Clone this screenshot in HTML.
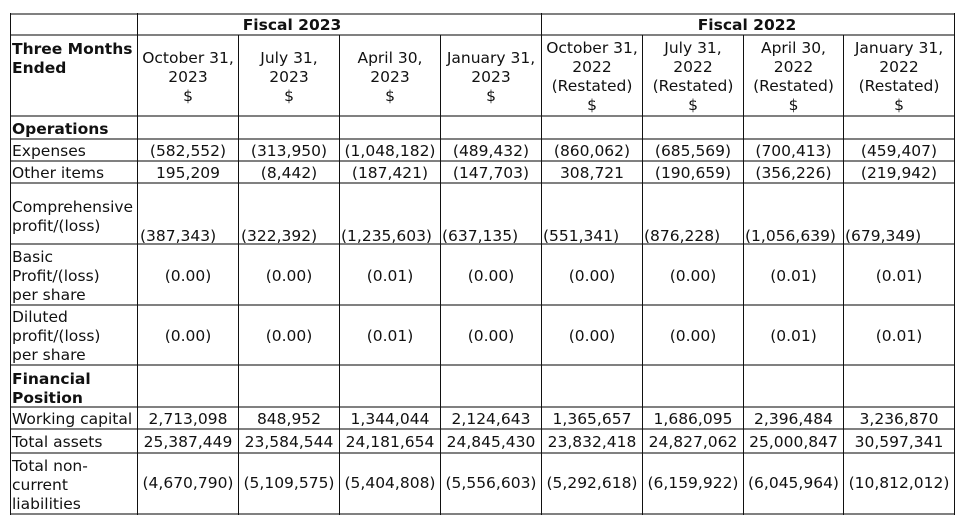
<!DOCTYPE html>
<html><head><meta charset="utf-8">
<style>
html,body{margin:0;padding:0;background:#fff;}
body{width:966px;height:526px;position:relative;overflow:hidden;font-family:"DejaVu Sans","Liberation Sans",sans-serif;font-size:15.5px;line-height:19px;color:#111;}
.h{position:absolute;left:10px;width:945px;height:2px;background:#808080;}
.v{position:absolute;width:1px;background:#111;}
.t{position:absolute;white-space:nowrap;}
.c{text-align:center;}
.b{font-weight:bold;}
</style></head><body>
<!-- horizontal lines -->
<div class="h" style="top:13px"></div>
<div class="h" style="top:34px"></div>
<div class="h" style="top:115px"></div>
<div class="h" style="top:138px"></div>
<div class="h" style="top:160px"></div>
<div class="h" style="top:182px"></div>
<div class="h" style="top:243px"></div>
<div class="h" style="top:304px"></div>
<div class="h" style="top:364px"></div>
<div class="h" style="top:406px"></div>
<div class="h" style="top:428px"></div>
<div class="h" style="top:452px"></div>
<div class="h" style="top:513px"></div>
<!-- vertical lines -->
<div class="v" style="left:10px;top:13px;height:502px"></div>
<div class="v" style="left:137px;top:13px;height:502px"></div>
<div class="v" style="left:541px;top:13px;height:502px"></div>
<div class="v" style="left:954px;top:13px;height:502px"></div>
<div class="v" style="left:238px;top:35px;height:480px"></div>
<div class="v" style="left:339px;top:35px;height:480px"></div>
<div class="v" style="left:440px;top:35px;height:480px"></div>
<div class="v" style="left:642px;top:35px;height:480px"></div>
<div class="v" style="left:743px;top:35px;height:480px"></div>
<div class="v" style="left:843px;top:35px;height:480px"></div>

<!-- fiscal headers -->
<div class="t b c" style="left:192px;width:200px;top:15.5px">Fiscal 2023</div>
<div class="t b c" style="left:647px;width:200px;top:15.5px">Fiscal 2022</div>

<!-- column headers -->
<div class="t b" style="left:12px;top:39.5px">Three Months<br>Ended</div>
<div class="t c" style="left:138px;width:100px;top:48.5px">October 31,<br>2023<br>$</div>
<div class="t c" style="left:239px;width:100px;top:48.5px">July 31,<br>2023<br>$</div>
<div class="t c" style="left:340px;width:100px;top:48.5px">April 30,<br>2023<br>$</div>
<div class="t c" style="left:441px;width:100px;top:48.5px">January 31,<br>2023<br>$</div>
<div class="t c" style="left:542px;width:100px;top:38.5px">October 31,<br>2022<br>(Restated)<br>$</div>
<div class="t c" style="left:643px;width:100px;top:38.5px">July 31,<br>2022<br>(Restated)<br>$</div>
<div class="t c" style="left:744px;width:99px;top:38.5px">April 30,<br>2022<br>(Restated)<br>$</div>
<div class="t c" style="left:844px;width:110px;top:38.5px">January 31,<br>2022<br>(Restated)<br>$</div>

<!-- Operations -->
<div class="t b" style="left:12px;top:119.5px">Operations</div>

<!-- Expenses -->
<div class="t" style="left:12px;top:141.5px">Expenses</div>
<div class="t c" style="left:138px;width:100px;top:141.5px">(582,552)</div>
<div class="t c" style="left:239px;width:100px;top:141.5px">(313,950)</div>
<div class="t c" style="left:340px;width:100px;top:141.5px">(1,048,182)</div>
<div class="t c" style="left:441px;width:100px;top:141.5px">(489,432)</div>
<div class="t c" style="left:542px;width:100px;top:141.5px">(860,062)</div>
<div class="t c" style="left:643px;width:100px;top:141.5px">(685,569)</div>
<div class="t c" style="left:744px;width:99px;top:141.5px">(700,413)</div>
<div class="t c" style="left:844px;width:110px;top:141.5px">(459,407)</div>

<!-- Other items -->
<div class="t" style="left:12px;top:163.5px">Other items</div>
<div class="t c" style="left:138px;width:100px;top:163.5px">195,209</div>
<div class="t c" style="left:239px;width:100px;top:163.5px">(8,442)</div>
<div class="t c" style="left:340px;width:100px;top:163.5px">(187,421)</div>
<div class="t c" style="left:441px;width:100px;top:163.5px">(147,703)</div>
<div class="t c" style="left:542px;width:100px;top:163.5px">308,721</div>
<div class="t c" style="left:643px;width:100px;top:163.5px">(190,659)</div>
<div class="t c" style="left:744px;width:99px;top:163.5px">(356,226)</div>
<div class="t c" style="left:844px;width:110px;top:163.5px">(219,942)</div>

<!-- Comprehensive -->
<div class="t" style="left:12px;top:198px">Comprehensive<br>profit/(loss)</div>
<div class="t" style="left:140px;top:226.5px">(387,343)</div>
<div class="t" style="left:241px;top:226.5px">(322,392)</div>
<div class="t" style="left:341px;top:226.5px">(1,235,603)</div>
<div class="t" style="left:442px;top:226.5px">(637,135)</div>
<div class="t" style="left:543px;top:226.5px">(551,341)</div>
<div class="t" style="left:644px;top:226.5px">(876,228)</div>
<div class="t" style="left:745px;top:226.5px">(1,056,639)</div>
<div class="t" style="left:845px;top:226.5px">(679,349)</div>

<!-- Basic -->
<div class="t" style="left:12px;top:248px">Basic<br>Profit/(loss)<br>per share</div>
<div class="t c" style="left:138px;width:100px;top:267px">(0.00)</div>
<div class="t c" style="left:239px;width:100px;top:267px">(0.00)</div>
<div class="t c" style="left:340px;width:100px;top:267px">(0.01)</div>
<div class="t c" style="left:441px;width:100px;top:267px">(0.00)</div>
<div class="t c" style="left:542px;width:100px;top:267px">(0.00)</div>
<div class="t c" style="left:643px;width:100px;top:267px">(0.00)</div>
<div class="t c" style="left:744px;width:99px;top:267px">(0.01)</div>
<div class="t c" style="left:844px;width:110px;top:267px">(0.01)</div>

<!-- Diluted -->
<div class="t" style="left:12px;top:308px">Diluted<br>profit/(loss)<br>per share</div>
<div class="t c" style="left:138px;width:100px;top:327px">(0.00)</div>
<div class="t c" style="left:239px;width:100px;top:327px">(0.00)</div>
<div class="t c" style="left:340px;width:100px;top:327px">(0.01)</div>
<div class="t c" style="left:441px;width:100px;top:327px">(0.00)</div>
<div class="t c" style="left:542px;width:100px;top:327px">(0.00)</div>
<div class="t c" style="left:643px;width:100px;top:327px">(0.00)</div>
<div class="t c" style="left:744px;width:99px;top:327px">(0.01)</div>
<div class="t c" style="left:844px;width:110px;top:327px">(0.01)</div>

<!-- Financial Position -->
<div class="t b" style="left:12px;top:369.5px">Financial<br>Position</div>

<!-- Working capital -->
<div class="t" style="left:12px;top:410px">Working capital</div>
<div class="t c" style="left:138px;width:100px;top:410px">2,713,098</div>
<div class="t c" style="left:239px;width:100px;top:410px">848,952</div>
<div class="t c" style="left:340px;width:100px;top:410px">1,344,044</div>
<div class="t c" style="left:441px;width:100px;top:410px">2,124,643</div>
<div class="t c" style="left:542px;width:100px;top:410px">1,365,657</div>
<div class="t c" style="left:643px;width:100px;top:410px">1,686,095</div>
<div class="t c" style="left:744px;width:99px;top:410px">2,396,484</div>
<div class="t c" style="left:844px;width:110px;top:410px">3,236,870</div>

<!-- Total assets -->
<div class="t" style="left:12px;top:432.5px">Total assets</div>
<div class="t c" style="left:138px;width:100px;top:432.5px">25,387,449</div>
<div class="t c" style="left:239px;width:100px;top:432.5px">23,584,544</div>
<div class="t c" style="left:340px;width:100px;top:432.5px">24,181,654</div>
<div class="t c" style="left:441px;width:100px;top:432.5px">24,845,430</div>
<div class="t c" style="left:542px;width:100px;top:432.5px">23,832,418</div>
<div class="t c" style="left:643px;width:100px;top:432.5px">24,827,062</div>
<div class="t c" style="left:744px;width:99px;top:432.5px">25,000,847</div>
<div class="t c" style="left:844px;width:110px;top:432.5px">30,597,341</div>

<!-- Total non-current liabilities -->
<div class="t" style="left:12px;top:456.5px">Total non-<br>current<br>liabilities</div>
<div class="t c" style="left:138px;width:100px;top:474px">(4,670,790)</div>
<div class="t c" style="left:239px;width:100px;top:474px">(5,109,575)</div>
<div class="t c" style="left:340px;width:100px;top:474px">(5,404,808)</div>
<div class="t c" style="left:441px;width:100px;top:474px">(5,556,603)</div>
<div class="t c" style="left:542px;width:100px;top:474px">(5,292,618)</div>
<div class="t c" style="left:643px;width:100px;top:474px">(6,159,922)</div>
<div class="t c" style="left:744px;width:99px;top:474px">(6,045,964)</div>
<div class="t c" style="left:844px;width:110px;top:474px">(10,812,012)</div>
</body></html>
